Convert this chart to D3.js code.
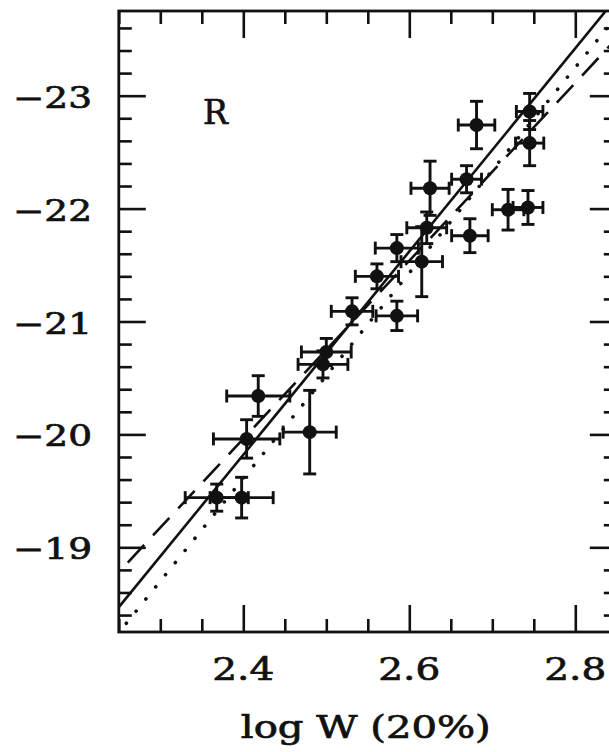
<!DOCTYPE html>
<html><head><meta charset="utf-8">
<script src="https://cdn.jsdelivr.net/npm/d3@7"></script>
<style>body{margin:0;background:#fff}svg{display:block}</style>
</head><body>
<svg id="chart" width="609" height="752"></svg>
<script>
// Tully-Fisher relation, R band: absolute magnitude vs. log of 20% line width
const logW    = [2.368, 2.398, 2.404, 2.418, 2.480, 2.496, 2.500, 2.531, 2.585, 2.561, 2.585, 2.615, 2.621, 2.625, 2.669, 2.673, 2.719, 2.743, 2.681, 2.745, 2.745];
const logWErr = [0.038, 0.038, 0.040, 0.038, 0.032, 0.030, 0.030, 0.025, 0.025, 0.026, 0.026, 0.025, 0.024, 0.023, 0.018, 0.022, 0.019, 0.018, 0.022, 0.016, 0.017];
const magR    = [-19.44, -19.44, -19.96, -20.34, -20.02, -20.62, -20.73, -21.09, -21.05, -21.40, -21.65, -21.53, -21.83, -22.18, -22.26, -21.76, -21.99, -22.01, -22.74, -22.86, -22.58];
const magErr  = [0.12, 0.18, 0.17, 0.18, 0.37, 0.12, 0.12, 0.12, 0.13, 0.11, 0.12, 0.31, 0.14, 0.24, 0.12, 0.15, 0.18, 0.15, 0.21, 0.16, 0.20];

// Fitted relations: M = zero + slope * (logW - 2.5)
const fitNames  = ["solid", "dashed", "dotted"];
const fitZero   = [-20.72, -20.75, -20.52];
const fitSlope  = [-9.0, -7.88, -9.1];

const xMajor = [2.4, 2.6, 2.8];
const yMajor = [-23, -22, -21, -20, -19];
const bandLabel = "R";
const xTitle = "log W (20%)";

const svg = d3.select("#chart");
const frameL = 118.8, frameR = 616.8, frameT = 11, frameB = 632;
const x = d3.scaleLinear().domain([2.25, 2.85]).range([frameL, frameR]);
const y = d3.scaleLinear().domain([-18.25, -23.75]).range([frameB, frameT]);

const font = "'DejaVu Serif', serif";
const ink = "#111";

// minor tick values
const xMinor = d3.range(2.25, 2.8501, 0.05).map(v => +v.toFixed(2)).filter(v => !xMajor.some(m => Math.abs(m - v) < 1e-6));
const yMinor = d3.range(-23.6, -18.25, 0.2).map(v => +v.toFixed(1)).filter(v => !yMajor.some(m => Math.abs(m - v) < 1e-6));

const majorLen = 27, minorLen = 13;

function tickAxis(axisFn, scale, values, len, tr) {
  const g = svg.append("g").attr("transform", tr)
    .call(axisFn(scale).tickValues(values).tickSize(-len).tickFormat(""));
  g.select(".domain").remove();
  g.selectAll(".tick line").attr("stroke", ink).attr("stroke-width", 2.6);
  return g;
}
// ticks on all four sides, pointing inward
tickAxis(d3.axisBottom, x, xMajor, majorLen, `translate(0,${frameB})`);
tickAxis(d3.axisBottom, x, xMinor, minorLen, `translate(0,${frameB})`);
tickAxis(d3.axisTop, x, xMajor, majorLen, `translate(0,${frameT})`);
tickAxis(d3.axisTop, x, xMinor, minorLen, `translate(0,${frameT})`);
tickAxis(d3.axisLeft, y, yMajor, majorLen, `translate(${frameL},0)`);
tickAxis(d3.axisLeft, y, yMinor, minorLen, `translate(${frameL},0)`);
tickAxis(d3.axisRight, y, yMajor, majorLen, `translate(${frameR},0)`);
tickAxis(d3.axisRight, y, yMinor, minorLen, `translate(${frameR},0)`);

// frame
svg.append("rect").attr("x", frameL).attr("y", frameT)
  .attr("width", frameR - frameL).attr("height", frameB - frameT)
  .attr("fill", "none").attr("stroke", ink).attr("stroke-width", 2.8);

// tick labels
const fmtY = d3.format("d");
function styleText(sel, size) {
  sel.attr("font-family", font).attr("font-size", size).attr("fill", ink)
    .attr("stroke", ink).attr("stroke-width", 0.7);
}
svg.append("g").selectAll("text").data(yMajor).join("text")
  .attr("x", 92).attr("y", d => y(d) + 12)
  .attr("text-anchor", "end")
  .call(styleText, 29)
  .attr("textLength", 79).attr("lengthAdjust", "spacingAndGlyphs")
  .text(d => fmtY(d));

svg.append("g").selectAll("text").data(xMajor).join("text")
  .attr("x", d => x(d)).attr("y", 680)
  .attr("text-anchor", "middle")
  .call(styleText, 31)
  .attr("textLength", 62).attr("lengthAdjust", "spacingAndGlyphs")
  .text(d => d3.format(".1f")(d));

svg.append("text").attr("x", (frameL + frameR) / 2 - 2).attr("y", 738)
  .attr("text-anchor", "middle")
  .call(styleText, 31)
  .attr("textLength", 250).attr("lengthAdjust", "spacingAndGlyphs")
  .text(xTitle);

svg.append("text").attr("x", 203).attr("y", 124)
  .call(styleText, 33)
  .text(bandLabel);

// clip region for the fit lines
svg.append("clipPath").attr("id", "plotArea").append("rect")
  .attr("x", frameL).attr("y", frameT).attr("width", frameR - frameL).attr("height", frameB - frameT);

const lineStyles = {
  solid:  {dash: null, width: 2.6, cap: "butt"},
  dashed: {dash: "24,13", width: 2.6, cap: "butt"},
  dotted: {dash: "0.1,15.5", width: 3.6, cap: "round"}
};
const fits = fitNames.map((n, i) => ({name: n, zero: fitZero[i], slope: fitSlope[i]}));
const line = d3.line().x(d => x(d[0])).y(d => y(d[1]));
svg.append("g").attr("clip-path", "url(#plotArea)")
  .selectAll("path").data(fits).join("path")
  .attr("d", f => line([2.2, 2.9].map(v => [v, f.zero + f.slope * (v - 2.5)])))
  .attr("fill", "none").attr("stroke", ink)
  .attr("stroke-width", f => lineStyles[f.name].width)
  .attr("stroke-dasharray", f => lineStyles[f.name].dash)
  .attr("stroke-linecap", f => lineStyles[f.name].cap);

// galaxies with error bars
const pts = logW.map((v, i) => ({w: v, we: logWErr[i], m: magR[i], me: magErr[i]}));
const cap = 6.5;
const gp = svg.append("g").attr("stroke", ink).attr("stroke-width", 2.9).attr("fill", ink);
const pg = gp.selectAll("g").data(pts).join("g");
pg.append("line").attr("x1", d => x(d.w - d.we)).attr("x2", d => x(d.w + d.we))
  .attr("y1", d => y(d.m)).attr("y2", d => y(d.m));
pg.append("line").attr("x1", d => x(d.w)).attr("x2", d => x(d.w))
  .attr("y1", d => y(d.m - d.me)).attr("y2", d => y(d.m + d.me));
pg.append("line").attr("x1", d => x(d.w - d.we)).attr("x2", d => x(d.w - d.we))
  .attr("y1", d => y(d.m) - cap).attr("y2", d => y(d.m) + cap);
pg.append("line").attr("x1", d => x(d.w + d.we)).attr("x2", d => x(d.w + d.we))
  .attr("y1", d => y(d.m) - cap).attr("y2", d => y(d.m) + cap);
pg.append("line").attr("x1", d => x(d.w) - cap).attr("x2", d => x(d.w) + cap)
  .attr("y1", d => y(d.m - d.me)).attr("y2", d => y(d.m - d.me));
pg.append("line").attr("x1", d => x(d.w) - cap).attr("x2", d => x(d.w) + cap)
  .attr("y1", d => y(d.m + d.me)).attr("y2", d => y(d.m + d.me));
pg.append("circle").attr("cx", d => x(d.w)).attr("cy", d => y(d.m)).attr("r", 7).attr("stroke", "none");
</script>
</body></html>
